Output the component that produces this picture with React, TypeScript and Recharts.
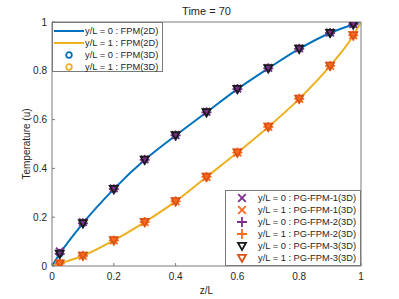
import React from "react";
import { ComposedChart, Line, Scatter, XAxis, YAxis } from "recharts";

// 2D solution curves (FPM 2D)
const zLine = [0, 0.025, 0.1, 0.2, 0.3, 0.4, 0.5, 0.6, 0.7, 0.8, 0.9, 0.975, 1];
const u0Line = [0, 0.05, 0.175, 0.315, 0.435, 0.535, 0.63, 0.725, 0.81, 0.89, 0.955, 0.99, 1];
const u1Line = [0, 0.01, 0.042, 0.105, 0.18, 0.265, 0.365, 0.465, 0.57, 0.685, 0.82, 0.945, 1];

// 3D sample points
const zPts = [0.025, 0.1, 0.2, 0.3, 0.4, 0.5, 0.6, 0.7, 0.8, 0.9, 0.975];
const fpm3d0 = [0.05, 0.175, 0.315, 0.435, 0.535, 0.63, 0.725, 0.81, 0.89, 0.955, 0.99];
const fpm3d1 = [0.01, 0.042, 0.105, 0.18, 0.265, 0.365, 0.465, 0.57, 0.685, 0.82, 0.945];
const pg1_0 = [0.06, 0.18, 0.318, 0.437, 0.537, 0.632, 0.727, 0.812, 0.892, 0.957, 0.992];
const pg1_1 = [0.01, 0.042, 0.105, 0.18, 0.265, 0.365, 0.465, 0.57, 0.685, 0.82, 0.945];
const pg2_0 = [0.05, 0.175, 0.315, 0.435, 0.535, 0.63, 0.725, 0.81, 0.89, 0.955, 0.99];
const pg2_1 = [0.01, 0.042, 0.105, 0.18, 0.265, 0.365, 0.465, 0.57, 0.685, 0.82, 0.945];
const pg3_0 = [0.05, 0.175, 0.315, 0.435, 0.535, 0.63, 0.725, 0.81, 0.89, 0.955, 0.99];
const pg3_1 = [0.01, 0.042, 0.105, 0.18, 0.265, 0.365, 0.465, 0.57, 0.685, 0.82, 0.945];

const xTicks = [0, 0.2, 0.4, 0.6, 0.8, 1];
const yTicks = [0, 0.2, 0.4, 0.6, 0.8, 1];

const lineData = zLine.map((z, i) => ({ z, u0: u0Line[i], u1: u1Line[i] }));
const pts = (vals: number[]) => zPts.map((z, i) => ({ z, u: vals[i] }));

const BLUE = "#0072BD";
const YELLOW = "#EDB120";
const PURPLE = "#7E2F8E";
const ORANGE = "#FF6A1F";
const RED = "#D95319";
const BLACK = "#1a1a1a";
const AXIS = "#7a7a7a";
const TXT = "#262626";
const FONT = "'Liberation Sans', Arial, Helvetica, sans-serif";

const circle = (c: string) => (p: any) => (
  <circle cx={p.cx} cy={p.cy} r={2.8} fill="none" stroke={c} strokeWidth={1.8} />
);
const cross = (c: string) => (p: any) => {
  const s = 3.8;
  return (
    <path
      d={`M${p.cx - s},${p.cy - s}L${p.cx + s},${p.cy + s}M${p.cx - s},${p.cy + s}L${p.cx + s},${p.cy - s}`}
      stroke={c}
      strokeWidth={1.8}
      fill="none"
    />
  );
};
const plus = (c: string) => (p: any) => {
  const s = 5;
  return (
    <path
      d={`M${p.cx - s},${p.cy}L${p.cx + s},${p.cy}M${p.cx},${p.cy - s}L${p.cx},${p.cy + s}`}
      stroke={c}
      strokeWidth={1.8}
      fill="none"
    />
  );
};
const tri = (c: string) => (p: any) => {
  const s = 4;
  return (
    <path
      d={`M${p.cx - s},${p.cy - s * 0.8}L${p.cx + s},${p.cy - s * 0.8}L${p.cx},${p.cy + s}Z`}
      stroke={c}
      strokeWidth={1.8}
      fill="none"
    />
  );
};

const BottomTick = ({ x, y, payload }: any) => (
  <g>
    <line x1={x} x2={x} y1={y} y2={y - 3} stroke={AXIS} />
    <text x={x} y={y + 14} textAnchor="middle" fontSize={10} fill={TXT} fontFamily={FONT}>
      {String(payload.value)}
    </text>
  </g>
);
const TopTick = ({ x, y }: any) => <line x1={x} x2={x} y1={y} y2={y + 3} stroke={AXIS} />;
const LeftTick = ({ x, y, payload }: any) => (
  <g>
    <line x1={x} x2={x + 3} y1={y} y2={y} stroke={AXIS} />
    <text x={x - 5} y={y + 3.5} textAnchor="end" fontSize={10} fill={TXT} fontFamily={FONT}>
      {String(payload.value)}
    </text>
  </g>
);
const RightTick = ({ x, y }: any) => <line x1={x} x2={x - 3} y1={y} y2={y} stroke={AXIS} />;

const LegendRow = ({ icon, label }: { icon: React.ReactNode; label: string }) => (
  <div style={{ display: "flex", alignItems: "center", height: 12 }}>
    <svg width={32} height={12} style={{ flex: "none" }}>
      {icon}
    </svg>
    <span style={{ fontSize: 9.3, color: TXT, whiteSpace: "nowrap", marginLeft: 0 }}>{label}</span>
  </div>
);

const legend1 = [
  { icon: <line x1={1} x2={31} y1={6} y2={6} stroke={BLUE} strokeWidth={2} />, label: "y/L = 0 : FPM(2D)" },
  { icon: <line x1={1} x2={31} y1={6} y2={6} stroke={YELLOW} strokeWidth={2} />, label: "y/L = 1 : FPM(2D)" },
  { icon: circle(BLUE)({ cx: 16, cy: 6 }), label: "y/L = 0 : FPM(3D)" },
  { icon: circle(YELLOW)({ cx: 16, cy: 6 }), label: "y/L = 1 : FPM(3D)" },
];
const legend2 = [
  { icon: cross(PURPLE)({ cx: 16, cy: 6 }), label: "y/L = 0 : PG-FPM-1(3D)" },
  { icon: cross(ORANGE)({ cx: 16, cy: 6 }), label: "y/L = 1 : PG-FPM-1(3D)" },
  { icon: plus(PURPLE)({ cx: 16, cy: 6 }), label: "y/L = 0 : PG-FPM-2(3D)" },
  { icon: plus(ORANGE)({ cx: 16, cy: 6 }), label: "y/L = 1 : PG-FPM-2(3D)" },
  { icon: tri(BLACK)({ cx: 16, cy: 6 }), label: "y/L = 0 : PG-FPM-3(3D)" },
  { icon: tri(RED)({ cx: 16, cy: 6 }), label: "y/L = 1 : PG-FPM-3(3D)" },
];

export default function App() {
  return (
    <div style={{ position: "relative", width: 399, height: 299, fontFamily: FONT, background: "#fff" }}>
      <style>{"body{margin:0}"}</style>
      <ComposedChart width={399} height={299} margin={{ top: 21, right: 37, bottom: 32, left: 51 }}>
        <XAxis
          dataKey="z"
          type="number"
          domain={[0, 1]}
          ticks={xTicks}
          height={1}
          tickSize={0}
          tickMargin={0}
          tick={<BottomTick />}
          tickLine={false}
          stroke={AXIS}
          allowDataOverflow
        />
        <XAxis
          xAxisId="top"
          orientation="top"
          type="number"
          domain={[0, 1]}
          ticks={xTicks}
          height={1}
          tickSize={0}
          tickMargin={0}
          tick={<TopTick />}
          tickLine={false}
          stroke={AXIS}
        />
        <YAxis
          type="number"
          domain={[0, 1]}
          ticks={yTicks}
          width={1}
          tickSize={0}
          tickMargin={0}
          tick={<LeftTick />}
          tickLine={false}
          stroke={AXIS}
          allowDataOverflow
        />
        <YAxis
          yAxisId="right"
          orientation="right"
          type="number"
          domain={[0, 1]}
          ticks={yTicks}
          width={1}
          tickSize={0}
          tickMargin={0}
          tick={<RightTick />}
          tickLine={false}
          stroke={AXIS}
        />
        <Line data={lineData} dataKey="u0" type="monotone" stroke={BLUE} strokeWidth={2} dot={false} isAnimationActive={false} />
        <Line data={lineData} dataKey="u1" type="monotone" stroke={YELLOW} strokeWidth={2} dot={false} isAnimationActive={false} />
        <Scatter data={pts(fpm3d0)} dataKey="u" shape={circle(BLUE)} isAnimationActive={false} />
        <Scatter data={pts(fpm3d1)} dataKey="u" shape={circle(YELLOW)} isAnimationActive={false} />
        <Scatter data={pts(pg1_0)} dataKey="u" shape={cross(PURPLE)} isAnimationActive={false} />
        <Scatter data={pts(pg1_1)} dataKey="u" shape={cross(ORANGE)} isAnimationActive={false} />
        <Scatter data={pts(pg2_0)} dataKey="u" shape={plus(PURPLE)} isAnimationActive={false} />
        <Scatter data={pts(pg2_1)} dataKey="u" shape={plus(ORANGE)} isAnimationActive={false} />
        <Scatter data={pts(pg3_0)} dataKey="u" shape={tri(BLACK)} isAnimationActive={false} />
        <Scatter data={pts(pg3_1)} dataKey="u" shape={tri(RED)} isAnimationActive={false} />
      </ComposedChart>

      <div style={{ position: "absolute", left: 0, width: 413, top: 5, textAlign: "center", fontSize: 11, color: TXT }}>
        Time = 70
      </div>
      <div style={{ position: "absolute", left: 52, width: 309, top: 285, textAlign: "center", fontSize: 10, color: TXT }}>
        z/L
      </div>
      <div
        style={{
          position: "absolute",
          left: 26,
          top: 144,
          transform: "translate(-50%, -50%) rotate(-90deg)",
          fontSize: 10,
          color: TXT,
          whiteSpace: "nowrap",
        }}
      >
        Temperature (u)
      </div>

      <div
        style={{
          position: "absolute",
          left: 52,
          top: 22,
          width: 111,
          height: 50,
          border: `1px solid ${AXIS}`,
          background: "#fff",
          boxSizing: "border-box",
          paddingTop: 2,
        }}
      >
        {legend1.map((r) => (
          <LegendRow key={r.label} icon={r.icon} label={r.label} />
        ))}
      </div>
      <div
        style={{
          position: "absolute",
          left: 225,
          top: 190,
          width: 136,
          height: 76,
          border: `1px solid ${AXIS}`,
          background: "#fff",
          boxSizing: "border-box",
          paddingTop: 1,
        }}
      >
        {legend2.map((r) => (
          <LegendRow key={r.label} icon={r.icon} label={r.label} />
        ))}
      </div>
    </div>
  );
}
